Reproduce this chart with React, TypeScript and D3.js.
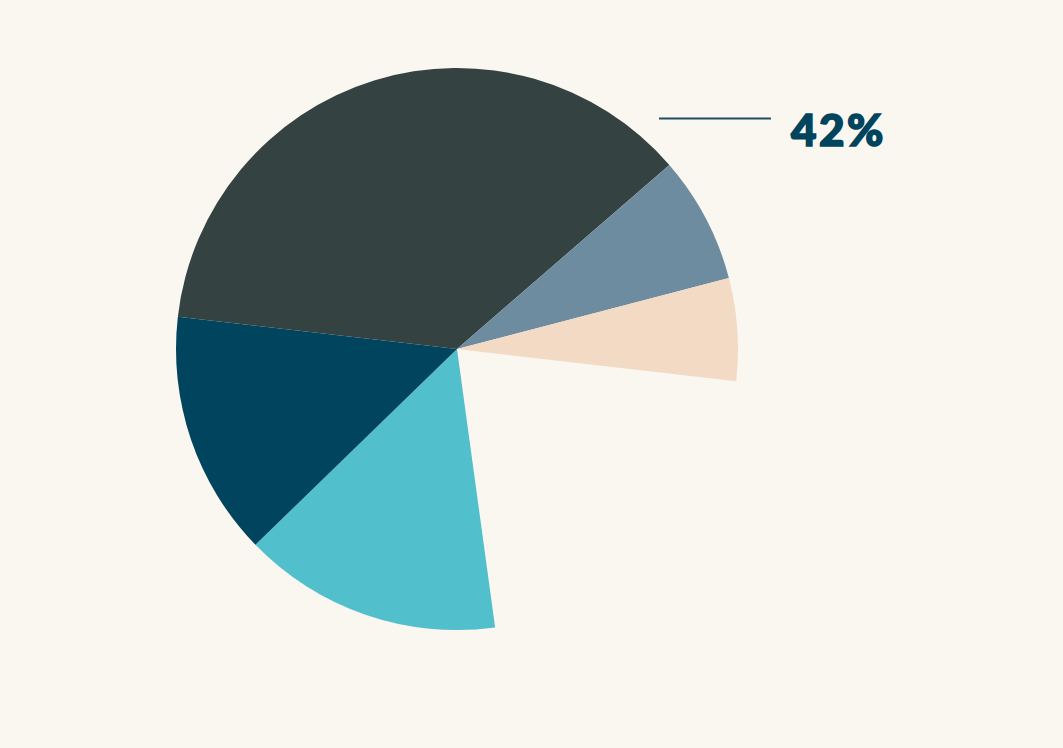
import * as d3 from 'd3';
import { type FC } from 'react';

// Slices in clockwise order from the left edge; the gap slice is left unfilled.
const categories = ['A', 'B', 'C', 'gap', 'D', 'E'];
const values = [36.8, 7.3, 5.9, 21, 14.9, 14.1];
const colors = ['#344242', '#6D8CA0', '#F2DAC4', 'none', '#52BFCC', '#00445E'];
const labelText = '42%';

const W = 1063;
const H = 748;

const App: FC = () => {
  const cx = 457;
  const cy = 349;
  const radius = 281;
  const start = (-83.4 * Math.PI) / 180;

  const slices = d3
    .pie<number>()
    .sort(null)
    .value((d) => d)
    .startAngle(start)
    .endAngle(start + 2 * Math.PI)(values);

  const arc = d3
    .arc<d3.PieArcDatum<number>>()
    .innerRadius(0)
    .outerRadius(radius);

  return (
    <svg
      width={W}
      height={H}
      style={{ position: 'fixed', left: 0, top: 0, background: '#FAF7F0' }}
    >
      <rect width={W} height={H} fill="#FAF7F0" />
      <g transform={`translate(${cx},${cy})`}>
        {slices.map((s, i) => (
          <path
            key={categories[i]}
            d={arc(s) || ''}
            fill={colors[i]}
            stroke="none"
          />
        ))}
      </g>
      <line x1={659} x2={771} y1={118.5} y2={118.5} stroke="#1F4E63" strokeWidth={2} />
      <text
        x={791}
        y={146}
        fill="#00445E"
        stroke="#00445E"
        strokeWidth={1.6}
        fontFamily="Lato, 'Open Sans', sans-serif"
        fontWeight={900}
        fontSize={44}
        letterSpacing={2.5}
      >
        {labelText}
      </text>
    </svg>
  );
};

export default App;
